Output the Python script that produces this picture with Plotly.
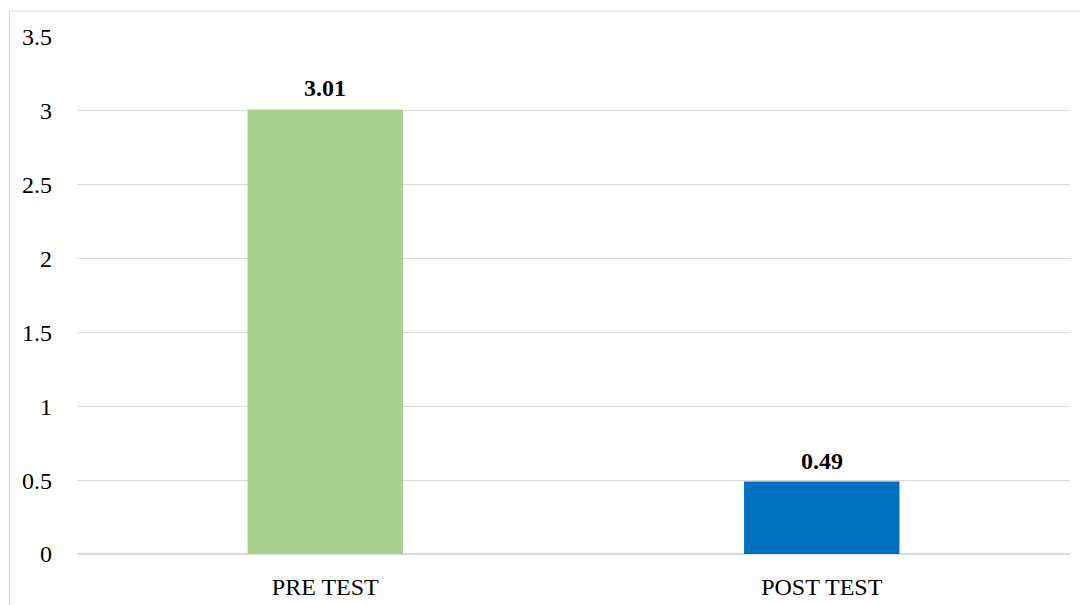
import plotly.graph_objects as go

categories = ["PRE TEST", "POST TEST"]
values = [3.01, 0.49]
colors = ["#A9D18E", "#0070C0"]
labels = ["3.01", "0.49"]

W, H = 1080, 605
L, R, T, B = 77, 10, 36.5, 50.5
pw, ph = W - L - R, H - T - B

fig = go.Figure()
fig.add_trace(go.Bar(x=categories, y=values, marker=dict(color=colors, line=dict(width=0)),
                     width=0.313, hoverinfo="skip"))

for c, v, t in zip(categories, values, labels):
    fig.add_annotation(x=c, y=v, text="<b>%s</b>" % t, showarrow=False, yanchor="bottom",
                       yshift=6, font=dict(family="Liberation Serif", size=24, color="#000000"))

# outer chart border (top and left visible)
fig.add_shape(type="rect", xref="paper", yref="paper",
              x0=(9.5 - L) / pw, x1=(W + 20 - L) / pw,
              y0=-(B + 20) / ph, y1=(H - 10.5 - B) / ph,
              line=dict(color="#D9D9D9", width=1), fillcolor="rgba(0,0,0,0)", layer="below")

fig.update_layout(
    width=W, height=H,
    margin=dict(l=L, r=R, t=T, b=B, pad=0, autoexpand=False),
    paper_bgcolor="white", plot_bgcolor="white",
    showlegend=False,
    font=dict(family="Liberation Serif", size=24, color="#000000"),
    xaxis=dict(showgrid=False, showline=False, zeroline=False, ticks="", automargin=False,
               ticklabelstandoff=16, tickfont=dict(size=24)),
    yaxis=dict(range=[0, 3.5], dtick=0.5, tick0=0, showgrid=True, gridcolor="#D9D9D9",
               gridwidth=1, zeroline=True, zerolinecolor="#D9D9D9", zerolinewidth=1.5,
               showline=False, ticks="", ticklabelstandoff=24, tickfont=dict(size=24),
               tickformat="~g", automargin=False),
)

fig.write_html("out.html")
